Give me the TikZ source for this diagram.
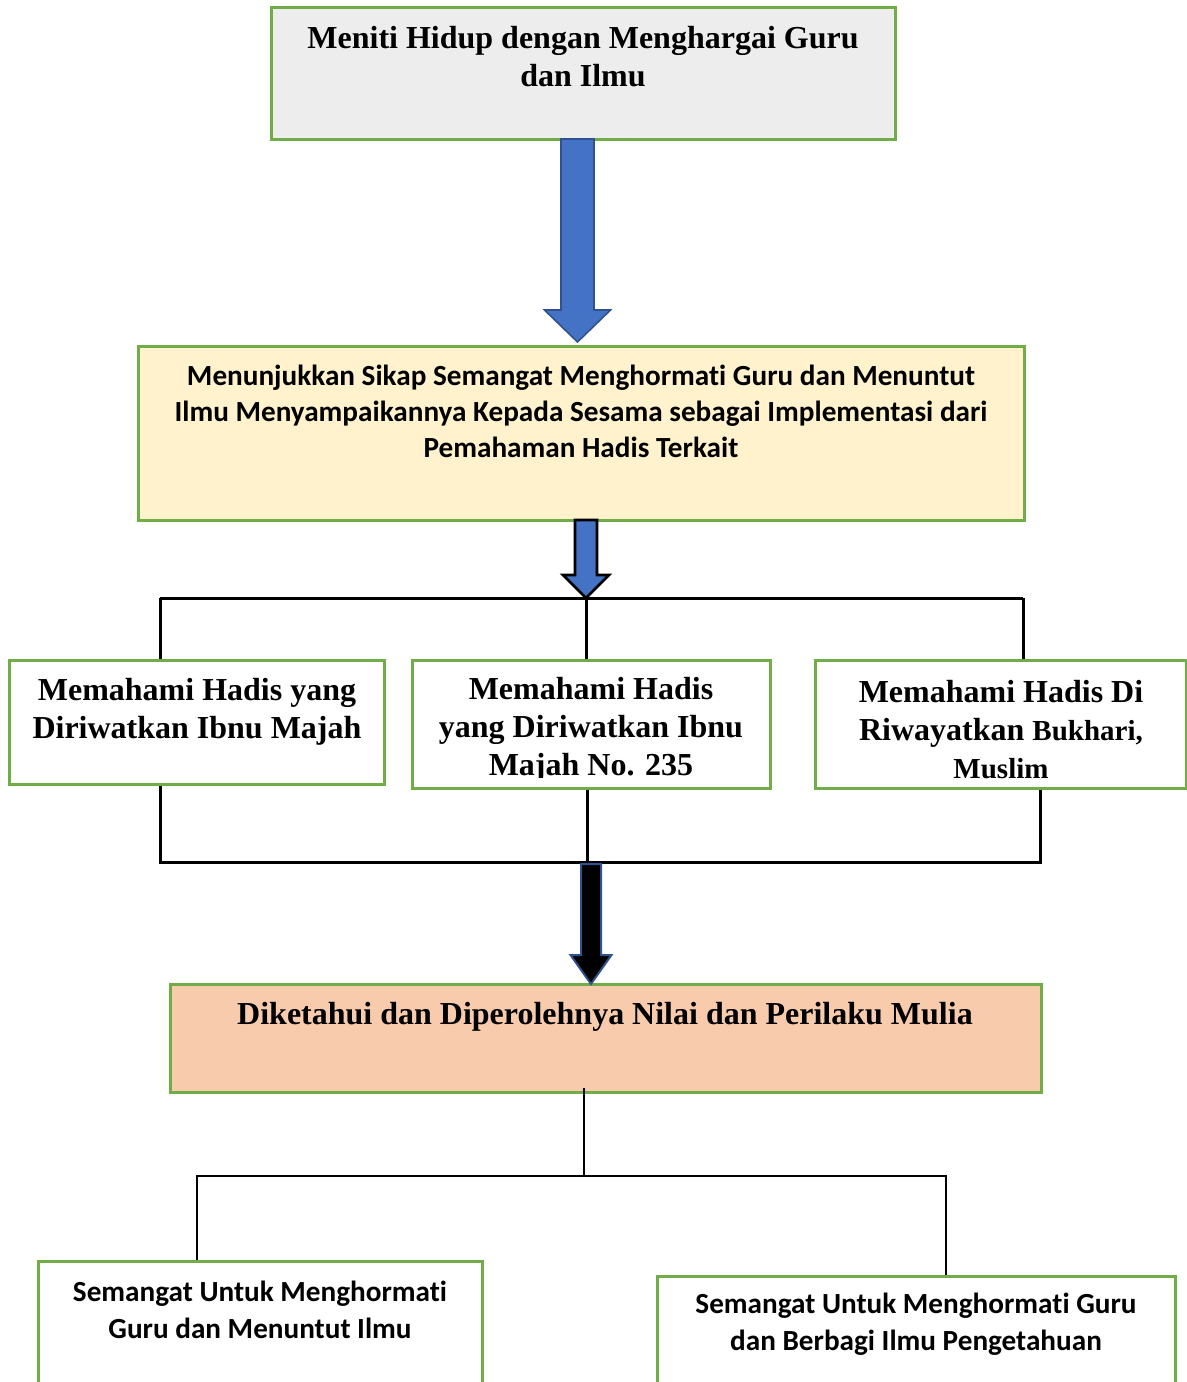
\documentclass[tikz,border=0pt]{standalone}
\usepackage{fontspec}
\setmainfont{Liberation Serif}
\newfontfamily\calfont{Carlito}[Ligatures={NoCommon,NoDiscretionary}]
\usetikzlibrary{calc}
\definecolor{boxgreen}{HTML}{70AD47}
\definecolor{grayfill}{HTML}{EDEDED}
\definecolor{yellowfill}{HTML}{FFF2CC}
\definecolor{orangefill}{HTML}{F8CBAD}
\definecolor{arrowblue}{HTML}{4472C4}
\definecolor{darkblue}{HTML}{2F528F}
\tikzset{
  gbox/.style={draw=boxgreen, line width=1.5pt, inner sep=0pt},
  serift/.style={font=\bfseries\fontsize{16}{19}\selectfont, align=center, inner sep=0pt},
  calt/.style={font=\calfont\bfseries\fontsize{14.6}{18}\selectfont, align=center, inner sep=0pt},
  calb/.style={font=\calfont\bfseries\fontsize{14.6}{18.5}\selectfont, align=center, inner sep=0pt},
  conn/.style={draw=black, line width=1.5pt},
  thinconn/.style={draw=black, line width=1pt},
  bluearrow/.style={fill=arrowblue, draw=darkblue, line width=0.8pt, line join=miter},
  bluearrowb/.style={fill=arrowblue, draw=black, line width=1.4pt, line join=miter},
  blackarrow/.style={fill=black, draw=darkblue, line width=1pt, line join=miter},
}
% #1 start, #2 tip, #3 shaft half width (px), #4 head half width (px), #5 head length (px), #6 style
\newcommand\blockarr[6]{%
  \path[#6] let \p1=(#1), \p2=(#2) in
    ({\x1-#3*0.5pt},{\y1}) -- ({\x1-#3*0.5pt},{\y2+#5*0.5pt}) -- ({\x1-#4*0.5pt},{\y2+#5*0.5pt})
    -- ({\x1},{\y2}) -- ({\x1+#4*0.5pt},{\y2+#5*0.5pt}) -- ({\x1+#3*0.5pt},{\y2+#5*0.5pt})
    -- ({\x1+#3*0.5pt},{\y1}) -- cycle;}
\newcommand\pxbox[7]{%
  \node[#7, minimum width={(#5-#3)*0.5pt}, minimum height={(#6-#4)*0.5pt}] (#1) at ({(#3+#5)/2},{(#4+#6)/2}) {#2};}
\begin{document}
\begin{tikzpicture}[x=0.5pt,y=-0.5pt]
\useasboundingbox (0,0) rectangle (1187,1382);

% boxes
\pxbox{top}{}{271}{7}{895}{139}{gbox, fill=grayfill}
\pxbox{mid}{}{138}{346}{1024}{520}{gbox, fill=yellowfill}
\pxbox{m1}{}{9}{660}{384}{784}{gbox, fill=white}
\pxbox{m2}{}{412}{660}{770}{788}{gbox, fill=white}
\pxbox{m3}{}{815}{660}{1186}{788}{gbox, fill=white}
\pxbox{res}{}{170}{984}{1041}{1092}{gbox, fill=orangefill}
\pxbox{b1}{}{38}{1261}{482}{1400}{gbox, fill=white}
\pxbox{b2}{}{657}{1276}{1175}{1400}{gbox, fill=white}

% texts
\node[serift] (ttop) at (583,57) {Meniti Hidup dengan Menghargai Guru\\dan Ilmu};
\node[calt] (tmid) at (581,411) {Menunjukkan Sikap Semangat Menghormati Guru dan Menuntut\\Ilmu Menyampaikannya Kepada Sesama sebagai Implementasi dari\\Pemahaman Hadis Terkait};
\node[serift] (tm1) at (197,711.5) {Memahami Hadis yang\\Diriwatkan Ibnu Majah};
\begin{scope}
  \clip (412,650) rectangle (770,777);
  \node[serift] (tm2) at (591,730) {Memahami Hadis\\yang Diriwatkan Ibnu\\Majah No. 235};
\end{scope}
\begin{scope}
  \clip (815,650) rectangle (1186,778);
  \node[serift] (tm3) at (1001,730) {Memahami Hadis Di\\Riwayatkan {\fontsize{14.5}{19}\selectfont Bukhari,}\\{\fontsize{14.5}{19}\selectfont Muslim}};
\end{scope}
\node[serift] (tres) at (605,1017) {Diketahui dan Diperolehnya Nilai dan Perilaku Mulia};
\node[calb] (tb1) at (260,1309.5) {Semangat Untuk Menghormati\\Guru dan Menuntut Ilmu};
\node[calb] (tb2) at (916,1324.5) {Semangat Untuk Menghormati Guru\\dan Berbagi Ilmu Pengetahuan};

% connector coordinates
\coordinate (a1s) at (577.5,139);
\coordinate (a1e) at (577.5,342);
\coordinate (a2s) at (586,520);
\coordinate (a2e) at (586,598);
\coordinate (h1L) at (160,598);
\coordinate (h1R) at (1023,598);
\coordinate (h2L) at (160,862);
\coordinate (h2M) at (587,862);
\coordinate (h2R) at (1040,862);
\coordinate (a3s) at (591,864);
\coordinate (a3e) at (591,984);
\coordinate (v1s) at (584,1088);
\coordinate (h3L) at (197,1176);
\coordinate (h3M) at (584,1176);
\coordinate (h3R) at (946,1176);

% upper tree
\draw[conn] (h1L) -- (h1R);
\draw[conn] (h1L) -- (h1L |- m1.north);
\draw[conn] (a2e) -- (a2e |- m2.north);
\draw[conn] (h1R) -- (h1R |- m3.north);

% lower tree
\draw[conn] (h2L |- m1.south) -- (h2L) -- (h2R) -- (h2R |- m3.south);
\draw[conn] (h2M |- m2.south) -- (h2M);

% bottom tree
\draw[thinconn] (v1s) -- (h3M);
\draw[thinconn] (h3L |- b1.north) -- (h3L) -- (h3R) -- (h3R |- b2.north);

% block arrows
\blockarr{a1s}{a1e}{16.5}{33}{32}{bluearrow}
\blockarr{a2s}{a2e}{11}{23}{23}{bluearrowb}
\blockarr{a3s}{a3e}{10}{20.5}{29}{blackarrow}
\end{tikzpicture}
\end{document}
